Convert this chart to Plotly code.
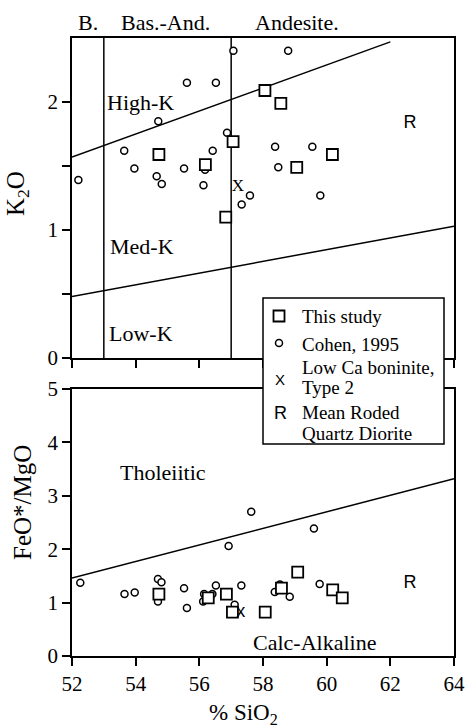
import plotly.graph_objects as go

# ---------------- data ----------------
# Top panel: K2O vs SiO2
cohen_sio2_top = [57.07, 55.61, 56.52, 54.71, 56.87, 53.64, 56.42, 58.79, 58.38, 59.55, 52.20,
                  53.96, 54.66, 54.82, 55.52, 56.18, 56.13, 57.59, 57.33, 58.48, 59.80]
cohen_k2o = [2.40, 2.15, 2.15, 1.85, 1.76, 1.62, 1.62, 2.40, 1.65, 1.65, 1.39,
             1.48, 1.42, 1.36, 1.48, 1.47, 1.35, 1.27, 1.20, 1.49, 1.27]
this_sio2_top = [54.73, 56.19, 56.83, 57.06, 58.06, 58.56, 59.06, 60.18]
this_k2o = [1.59, 1.51, 1.10, 1.69, 2.09, 1.99, 1.49, 1.59]
boninite_top = (57.21, 1.34)
roded_top = (62.62, 1.83)

# Bottom panel: FeO*/MgO vs SiO2
cohen_sio2_bot = [52.26, 59.60, 56.92, 53.65, 53.97, 54.70, 54.81, 54.70, 55.52, 55.61, 56.15,
                  56.12, 56.41, 56.52, 57.32, 57.11, 58.37, 58.53, 58.84, 59.78, 57.63]
cohen_feo = [1.37, 2.39, 2.06, 1.16, 1.19, 1.44, 1.38, 1.02, 1.27, 0.90, 1.16,
             1.02, 1.16, 1.32, 1.32, 0.96, 1.20, 1.34, 1.11, 1.35, 2.70]
this_sio2_bot = [54.73, 56.28, 56.85, 57.04, 58.07, 58.58, 59.09, 60.19, 60.49]
this_feo = [1.16, 1.09, 1.16, 0.82, 0.82, 1.27, 1.57, 1.24, 1.09]
boninite_bot = (57.30, 0.82)
roded_bot = (62.62, 1.36)

# Field boundaries
highk_sio2 = [52, 62]
highk_k2o = [1.57, 2.47]
lowk_sio2 = [52, 64]
lowk_k2o = [0.48, 1.03]
rock_div_sio2 = [53, 57]
rock_div_k2o = [0, 2.5]
thol_sio2 = [52, 64]
thol_feo = [1.46, 3.32]

x_ticks = [52, 54, 56, 58, 60, 62, 64]
k2o_ticks = [0, 1, 2]
k2o_minor_ticks = [0.5, 1.5]
feo_ticks = [0, 1, 2, 3, 4, 5]

legend_labels = ["This study", "Cohen, 1995", "Low Ca boninite,", "Type 2",
                 "Mean Roded", "Quartz Diorite"]

SERIF = "Liberation Serif, Times New Roman, serif"
SANS = "Liberation Sans, Arial, sans-serif"

fig = go.Figure()

line_style = dict(color="black", width=1.5)

# boundaries top
fig.add_trace(go.Scatter(x=highk_sio2, y=highk_k2o, mode="lines", line=line_style,
                         hoverinfo="skip", xaxis="x", yaxis="y"))
fig.add_trace(go.Scatter(x=lowk_sio2, y=lowk_k2o, mode="lines", line=line_style,
                         hoverinfo="skip", xaxis="x", yaxis="y"))
for s in rock_div_sio2:
    fig.add_trace(go.Scatter(x=[s, s], y=rock_div_k2o, mode="lines", line=line_style,
                             hoverinfo="skip", xaxis="x", yaxis="y"))
# boundary bottom
fig.add_trace(go.Scatter(x=thol_sio2, y=thol_feo, mode="lines", line=line_style,
                         hoverinfo="skip", xaxis="x2", yaxis="y2"))

sq_marker = dict(symbol="square", size=11, color="white", line=dict(color="black", width=1.8))
ci_marker = dict(symbol="circle", size=7, color="white", line=dict(color="black", width=1.5))

# top data
fig.add_trace(go.Scatter(x=cohen_sio2_top, y=cohen_k2o, mode="markers", marker=ci_marker,
                         name="Cohen, 1995", xaxis="x", yaxis="y"))
fig.add_trace(go.Scatter(x=this_sio2_top, y=this_k2o, mode="markers", marker=sq_marker,
                         name="This study", xaxis="x", yaxis="y"))
fig.add_trace(go.Scatter(x=[boninite_top[0]], y=[boninite_top[1]], mode="text", text=["X"],
                         textfont=dict(family=SERIF, size=17, color="black"),
                         xaxis="x", yaxis="y"))
fig.add_trace(go.Scatter(x=[roded_top[0]], y=[roded_top[1]], mode="text", text=["R"],
                         textfont=dict(family=SANS, size=18, color="black"),
                         xaxis="x", yaxis="y"))

# bottom data
fig.add_trace(go.Scatter(x=cohen_sio2_bot, y=cohen_feo, mode="markers", marker=ci_marker,
                         xaxis="x2", yaxis="y2"))
fig.add_trace(go.Scatter(x=this_sio2_bot, y=this_feo, mode="markers", marker=sq_marker,
                         xaxis="x2", yaxis="y2"))
fig.add_trace(go.Scatter(x=[boninite_bot[0]], y=[boninite_bot[1]], mode="text", text=["x"],
                         textfont=dict(family=SANS, size=18, color="black"),
                         xaxis="x2", yaxis="y2"))
fig.add_trace(go.Scatter(x=[roded_bot[0]], y=[roded_bot[1]], mode="text", text=["R"],
                         textfont=dict(family=SANS, size=18, color="black"),
                         xaxis="x2", yaxis="y2"))

axis_common = dict(showline=True, linecolor="black", linewidth=1.5, mirror=True,
                   showgrid=False, zeroline=False, ticks="outside", ticklen=8,
                   tickwidth=1.5, tickcolor="black",
                   tickfont=dict(family=SERIF, size=21, color="black"))

H_TOP = 0.4822
H_BOT = 0.4320

fig.update_layout(
    width=465, height=727,
    margin=dict(l=72, r=11, t=38, b=71, autoexpand=False),
    paper_bgcolor="white", plot_bgcolor="white",
    showlegend=False,
    xaxis=dict(domain=[0, 1], anchor="y", range=[52, 64], tickvals=x_ticks,
               showticklabels=False, **axis_common),
    yaxis=dict(domain=[H_TOP, 1], anchor="x", range=[0, 2.5], tickvals=k2o_ticks,
               minor=dict(tickvals=k2o_minor_ticks, ticks="outside", ticklen=8,
                          tickwidth=1.5, tickcolor="black", showgrid=False),
               **axis_common),
    xaxis2=dict(domain=[0, 1], anchor="y2", range=[52, 64], tickvals=x_ticks,
                **axis_common),
    yaxis2=dict(domain=[0, H_BOT], anchor="x2", range=[0, 5],
                tickvals=feo_ticks, **axis_common),
)

ann_font = dict(family=SERIF, size=22, color="black")
labels_top = [("High-K", 54.16, 2.0), ("Med-K", 54.19, 0.875), ("Low-K", 54.16, 0.195)]
for t, x, y in labels_top:
    fig.add_annotation(text=t, x=x, y=y, xref="x", yref="y", showarrow=False, font=ann_font)
labels_bot = [("Tholeiitic", 54.86, 3.44), ("Calc-Alkaline", 59.61, 0.26)]
for t, x, y in labels_bot:
    fig.add_annotation(text=t, x=x, y=y, xref="x2", yref="y2", showarrow=False, font=ann_font)


def px_to_paper(px, py):
    return (px - 72) / 382, (656 - py) / 618


for t, px, py in [("B.", 88, 22), ("Bas.-And.", 165, 22), ("Andesite.", 297, 22)]:
    x, y = px_to_paper(px, py)
    fig.add_annotation(text=t, x=x, y=y, xref="paper", yref="paper", showarrow=False,
                       font=ann_font, xanchor="center", yanchor="middle")

title_font = dict(family=SERIF, size=25, color="black")
x, y = px_to_paper(18, 193)
fig.add_annotation(text="K<sub>2</sub>O", x=x, y=y, xref="paper", yref="paper", showarrow=False,
                   font=title_font, textangle=-90, xanchor="center", yanchor="middle")
x, y = px_to_paper(22, 503)
fig.add_annotation(text="FeO*/MgO", x=x, y=y, xref="paper", yref="paper", showarrow=False,
                   font=title_font, textangle=-90, xanchor="center", yanchor="middle")
x, y = px_to_paper(243, 714)
fig.add_annotation(text="% SiO<sub>2</sub>", x=x, y=y, xref="paper", yref="paper", showarrow=False,
                   font=dict(family=SERIF, size=23, color="black"),
                   xanchor="center", yanchor="middle")

# ---------- manual legend ----------
bx0, by0 = px_to_paper(263, 444)
bx1, by1 = px_to_paper(444, 298)
fig.add_shape(type="rect", xref="paper", yref="paper", x0=bx0, y0=by0, x1=bx1, y1=by1,
              fillcolor="white", line=dict(color="black", width=1.5), layer="above")
sx, sy = px_to_paper(279, 316)
fig.add_shape(type="rect", xref="paper", yref="paper", xsizemode="pixel", ysizemode="pixel",
              xanchor=sx, yanchor=sy, x0=-5.5, x1=5.5, y0=-5.5, y1=5.5,
              fillcolor="white", line=dict(color="black", width=1.8), layer="above")
cx, cy = px_to_paper(279, 343)
fig.add_shape(type="circle", xref="paper", yref="paper", xsizemode="pixel", ysizemode="pixel",
              xanchor=cx, yanchor=cy, x0=-3.5, x1=3.5, y0=-3.5, y1=3.5,
              fillcolor="white", line=dict(color="black", width=1.5), layer="above")
gx, gy = px_to_paper(280, 379)
fig.add_annotation(text="X", x=gx, y=gy, xref="paper", yref="paper", showarrow=False,
                   font=dict(family=SANS, size=15, color="black"), xanchor="center", yanchor="middle")
gx, gy = px_to_paper(280, 413)
fig.add_annotation(text="R", x=gx, y=gy, xref="paper", yref="paper", showarrow=False,
                   font=dict(family=SANS, size=18, color="black"), xanchor="center", yanchor="middle")

legend_y_px = [316, 344, 367, 387, 413, 433]
for lab, py in zip(legend_labels, legend_y_px):
    lx, ly = px_to_paper(300, py)
    fig.add_annotation(text=lab, x=lx, y=ly, xref="paper", yref="paper", showarrow=False,
                       font=dict(family=SERIF, size=19, color="black"),
                       xanchor="left", yanchor="middle")

fig.write_html("out.html", config={"responsive": False, "displayModeBar": False},
               post_script="document.body.style.margin='0';document.body.style.overflow='hidden';")
